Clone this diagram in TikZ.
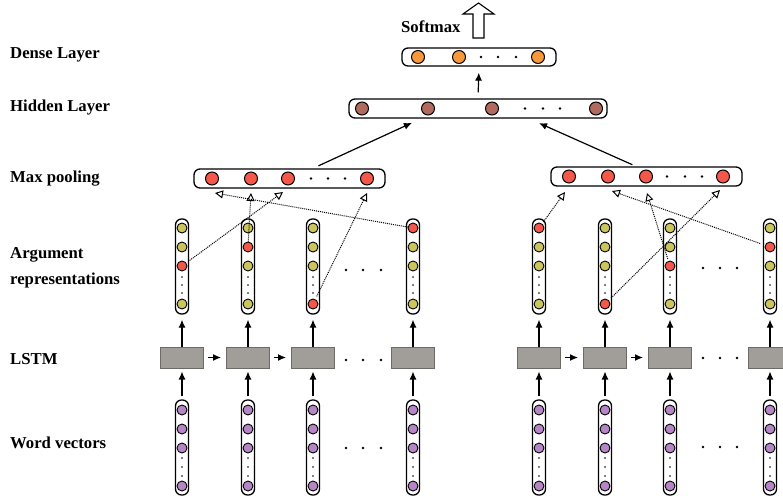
\documentclass[tikz,border=0pt]{standalone}
\usepackage{fontspec}
\setmainfont{Liberation Serif}
\usetikzlibrary{arrows.meta, positioning, calc}

\definecolor{denseorange}{HTML}{F7993B}
\definecolor{hiddenbrown}{HTML}{B06B5E}
\definecolor{poolred}{HTML}{F5584A}
\definecolor{argolive}{HTML}{CBC55B}
\definecolor{wordpurple}{HTML}{B585C6}
\definecolor{lstmgray}{HTML}{A19E99}
\definecolor{lstmedge}{HTML}{6E6B66}

\tikzset{
  layerlabel/.style={font=\bfseries\fontsize{16.7}{26}\selectfont, anchor=base west, align=left, inner sep=0pt},
  vecbox/.style={draw, line width=1.3pt, rounded corners=6pt, fill=white, inner sep=0pt},
  column/.style={vecbox, minimum width=13pt, minimum height=95pt},
  cell/.style={circle, draw, line width=0.9pt, inner sep=0pt, minimum size=10pt},
  unit/.style={circle, draw, line width=1pt, inner sep=0pt, minimum size=13pt},
  lstm/.style={draw=lstmedge, fill=lstmgray, line width=1pt, minimum width=43pt, minimum height=21pt, inner sep=0pt},
  arr/.style={-{Latex[length=8pt,width=7pt]}, line width=1.2pt},
  pick/.style={densely dotted, line width=1pt, -{Triangle[open,length=8pt,width=8pt]}},
}

\begin{document}
\begin{tikzpicture}[x=1pt, y=-1pt]
    \useasboundingbox (0,0) rectangle (783,499);

    % Layer names
    \node[layerlabel] (lbldense)  at (10,58)  {Dense Layer};
    \node[layerlabel] (lblhidden) at (10,111) {Hidden Layer};
    \node[layerlabel] (lblpool)   at (10,182) {Max pooling};
    \node[layerlabel] (lblarg)    at (10,284) {Argument\\representations};
    \node[layerlabel] (lbllstm)   at (10,364) {LSTM};
    \node[layerlabel] (lblword)   at (10,448) {Word vectors};

    % Softmax output
    \coordinate (softmax) at (478.5,38);
    \draw[line width=1.1pt, fill=white] (softmax) ++(-5.5,0) -- ++(0,-24) -- ++(-10,0)
        -- ++(15.5,-11) -- ++(15.5,11) -- ++(-10,0) -- ++(0,24) -- cycle;
    \node[layerlabel] (lblsoftmax) at (401,32) {Softmax};

    % Dense layer
    \node[vecbox, minimum width=154pt, minimum height=18pt] (dense) at (479,57) {};
    \foreach \i/\x in {1/418, 2/459, 3/538}
        \node[unit, fill=denseorange] (dense\i) at (\x,57) {};
    \foreach \x in {481, 498, 516}
        \fill (\x,57) circle (1.3pt);

    % Hidden layer
    \node[vecbox, minimum width=258pt, minimum height=19pt] (hidden) at (478,108.5) {};
    \foreach \i/\x in {1/362, 2/428, 3/492, 4/596}
        \node[unit, fill=hiddenbrown] (hidden\i) at (\x,108.5) {};
    \foreach \x in {525, 543, 560}
        \fill (\x,108.5) circle (1.3pt);
    \draw[arr, shorten <=6pt, shorten >=6pt] (hidden.north) -- (dense.south);

    % Max pooling
    \node[vecbox, minimum width=191pt, minimum height=19pt] (poolboxL) at (289.5,178.5) {};
    \node[vecbox, minimum width=191pt, minimum height=19pt] (poolboxR) at (646.5,176.5) {};
    \foreach \i/\x in {1/212, 2/251, 3/288, 4/367}
        \node[unit, fill=poolred] (poolL\i) at (\x,178.5) {};
    \foreach \i/\x in {1/569, 2/608, 3/646, 4/723}
        \node[unit, fill=poolred] (poolR\i) at (\x,176.5) {};
    \foreach \x in {311, 328, 345}
        \fill (\x,178.5) circle (1.3pt);
    \foreach \x in {667, 685, 702}
        \fill (\x,176.5) circle (1.3pt);
    \draw[arr, shorten <=6pt, shorten >=10pt] ([xshift=23.5pt]poolboxL.north) -- ([xshift=-57pt]hidden.south);
    \draw[arr, shorten <=4pt, shorten >=11pt] ([xshift=-10.5pt]poolboxR.north) -- ([xshift=51pt]hidden.south);

    % Argument representations, LSTM and word vectors
    \foreach \s/\i/\x/\r in {L/1/182/3, L/2/248/2, L/3/313/5, L/4/413/1,
                             R/1/539/1, R/2/605/5, R/3/670/3, R/4/770/2} {
        \node[column] (arg\s\i) at (\x,266.5) {};
        \foreach \k/\y in {1/228, 2/247, 3/266, 5/304} {
            \ifnum\k=\r\relax \def\cc{poolred}\else\def\cc{argolive}\fi
            \node[cell, fill=\cc] (arg\s\i c\k) at (\x,\y) {};
        }
        \foreach \y in {277, 285, 293}
            \fill (\x,\y) circle (0.9pt);

        \node[lstm] (lstm\s\i) at (\x,357.5) {};

        \node[column] (word\s\i) at (\x,447.5) {};
        \foreach \k/\y in {1/410, 2/429, 3/448, 5/486}
            \node[cell, fill=wordpurple] (word\s\i c\k) at (\x,\y) {};
        \foreach \y in {458, 467, 476}
            \fill (\x,\y) circle (0.9pt);

        \draw[arr, shorten <=3pt, shorten >=3pt] (word\s\i) -- (lstm\s\i);
        \draw[arr, shorten >=5pt] (lstm\s\i) -- (arg\s\i);
    }

    % Recurrent links
    \foreach \s in {L, R} {
        \draw[arr, shorten <=4pt, shorten >=5pt] (lstm\s1) -- (lstm\s2);
        \draw[arr, shorten <=4pt, shorten >=5pt] (lstm\s2) -- (lstm\s3);
    }

    % Ellipses between columns
    \foreach \x in {346, 363, 381} {
        \fill (\x,270) circle (1.3pt);
        \fill (\x,360) circle (1.3pt);
        \fill (\x,448) circle (1.3pt);
    }
    \foreach \x in {703, 720, 737} {
        \fill (\x,268) circle (1.3pt);
        \fill (\x,358) circle (1.3pt);
        \fill (\x,447) circle (1.3pt);
    }

    % Max pooling picks
    \coordinate (inL1) at (215,193);
    \coordinate (inL2) at (251,193);
    \coordinate (inL3) at (283,192);
    \coordinate (inL4) at (367,193);
    \coordinate (inR1) at (565,192);
    \coordinate (inR2) at (612,191);
    \coordinate (inR3) at (647,193);
    \coordinate (inR4) at (720,190);

    \draw[pick, shorten <=4pt] (argL1c3) -- (inL3);
    \draw[pick] (argL2c2) -- (inL2);
    \draw[pick, shorten <=3pt] (argL3c5) -- (inL4);
    \draw[pick] (argL4c1) -- (inL1);
    \draw[pick, shorten <=2pt] (argR1c1) -- (inR1);
    \draw[pick, shorten <=3pt] (argR2c5) -- (inR4);
    \draw[pick, shorten <=2pt] (argR3c3) -- (inR3);
    \draw[pick, shorten <=5pt] (argR4c2) -- (inR2);
\end{tikzpicture}
\end{document}
